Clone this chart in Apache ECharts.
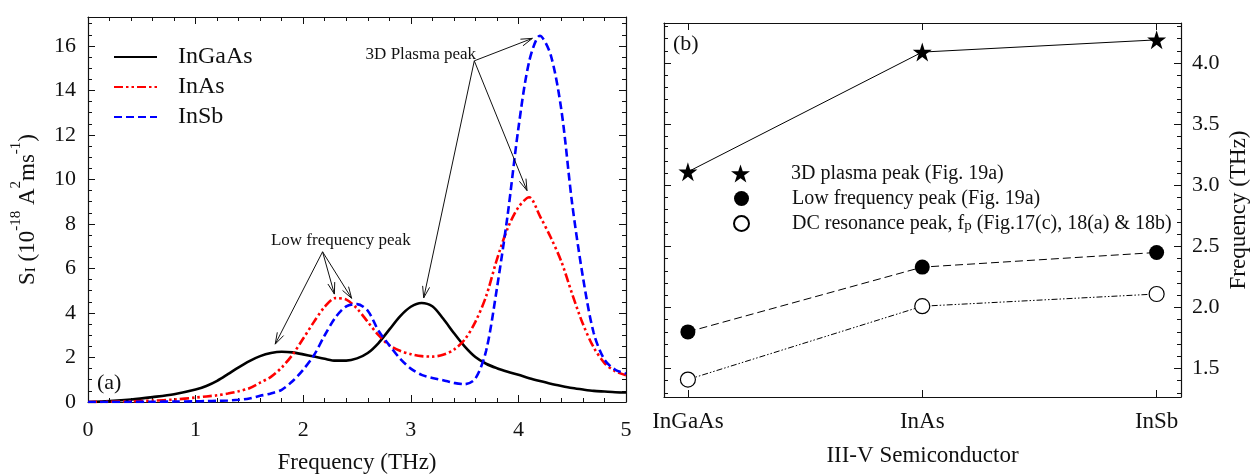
<!DOCTYPE html>
<html><head><meta charset="utf-8">
<script src="https://cdn.jsdelivr.net/npm/echarts@6/dist/echarts.min.js"></script>
<style>html,body{margin:0;padding:0;background:#fff}#c{width:1255px;height:475px}</style>
</head><body><div id="c"></div>
<script>
// ---------- Panel (a) data ----------
const freq = [0,0.2,0.4,0.6,0.8,1.0,1.1,1.2,1.3,1.4,1.5,1.6,1.7,1.8,1.9,2.0,2.1,2.2,2.3,2.4,2.5,2.6,2.7,2.8,2.9,3.0,3.1,3.2,3.3,3.4,3.5,3.6,3.7,3.8,3.9,4.0,4.1,4.2,4.3,4.4,4.5,4.6,4.7,4.8,4.9,5.0];
const inGaAs = [0,0.04,0.11,0.22,0.35,0.56,0.72,0.95,1.25,1.56,1.84,2.06,2.2,2.26,2.23,2.14,2.04,1.94,1.86,1.86,1.96,2.2,2.65,3.25,3.85,4.28,4.45,4.3,3.75,3.1,2.5,2.02,1.72,1.52,1.36,1.22,1.07,0.94,0.82,0.72,0.63,0.56,0.5,0.47,0.44,0.43];
const inAs = [0,0.01,0.03,0.06,0.11,0.2,0.25,0.3,0.38,0.48,0.62,0.87,1.13,1.55,2.12,2.85,3.6,4.28,4.67,4.6,4.2,3.6,3.0,2.55,2.3,2.15,2.06,2.04,2.12,2.35,2.8,3.6,4.75,6.4,7.8,8.75,9.2,8.35,7.4,6.3,4.85,3.5,2.45,1.75,1.38,1.2];
const inSb = [0,0,0.005,0.01,0.02,0.03,0.04,0.05,0.07,0.1,0.16,0.28,0.38,0.55,0.93,1.45,2.1,3.0,3.8,4.3,4.4,4.1,3.2,2.55,1.95,1.5,1.22,1.08,0.98,0.86,0.8,1.05,2.3,5.1,8.4,12.3,15.3,16.46,15.6,13.1,8.9,5.6,3.1,1.9,1.45,1.28];
const seriesNamesA = ['InGaAs','InAs','InSb'];
// annotation arrows (data coords): [x1, y1, x2, y2]
const arrowsA = [[3.59,15.33,4.13,16.34],[3.59,15.33,4.08,9.5],[3.59,15.33,3.12,4.68],[2.18,6.75,1.74,2.6],[2.18,6.75,2.29,4.85],[2.18,6.75,2.45,4.66]];
const notesA = [[2.58,15.63,'3D Plasma peak'],[1.70,7.27,'Low frequency peak']];

// ---------- Panel (b) data ----------
const semis = ['InGaAs','InAs','InSb'];
const plasmaPeak = [3.11,4.09,4.19];
const lowPeak = [1.8,2.33,2.45];
const dcPeak = [1.41,2.01,2.11];
const seriesNamesB = ['3D plasma peak (Fig. 19a)','Low frequency peak (Fig. 19a)','DC resonance peak, fp (Fig.17(c), 18(a) & 18b)'];

const FF = 'Liberation Serif';
const star = 'path://M50,0 L61.8,36.2 L100,36.2 L69.1,58.6 L80.9,95 L50,72.5 L19.1,95 L30.9,58.6 L0,36.2 L38.2,36.2 Z';
const pair = (a,b)=>a.map((v,i)=>[v,b[i]]);

function mkAxis(extra, minorSplit){
  const base = {
    axisLine:{show:true,onZero:false,lineStyle:{color:'#111',width:1.2}},
    axisTick:{show:true,inside:true,length:7,lineStyle:{color:'#111'}},
    minorTick:{show:minorSplit>0,splitNumber:minorSplit||5,length:4,lineStyle:{color:'#111'}},
    splitLine:{show:false}
  };
  const out = Object.assign(base, extra);
  if (extra.axisTickExtra){ out.axisTick = Object.assign(base.axisTick, extra.axisTickExtra); delete out.axisTickExtra; }
  return out;
}

function arrowItem(params, api){
  const p1 = api.coord([api.value(0), api.value(1)]);
  const p2 = api.coord([api.value(2), api.value(3)]);
  const a = Math.atan2(p2[1]-p1[1], p2[0]-p1[0]);
  const L = 12, w = 0.3;
  const h1 = [p2[0]-L*Math.cos(a-w), p2[1]-L*Math.sin(a-w)];
  const h2 = [p2[0]-L*Math.cos(a+w), p2[1]-L*Math.sin(a+w)];
  return {type:'group',children:[
    {type:'line',shape:{x1:p1[0],y1:p1[1],x2:p2[0],y2:p2[1]},style:{stroke:'#111',lineWidth:1}},
    {type:'polyline',shape:{points:[h1,p2,h2]},style:{stroke:'#111',fill:null,lineWidth:1}}
  ]};
}
function noteItem(params, api){
  const n = notesA[params.dataIndex];
  const p = api.coord([n[0], n[1]]);
  return {type:'text',x:p[0],y:p[1],style:{text:n[2],fontFamily:FF,fontSize:17,fill:'#111',align:'left',verticalAlign:'middle'}};
}

const chart = echarts.init(document.getElementById('c'));
chart.setOption({
  animation:false,
  backgroundColor:'#fff',
  grid:[
    {left:88,right:629,top:17,bottom:73,containLabel:false,outerBoundsMode:'none'},
    {left:664,right:74,top:23,bottom:78,containLabel:false,outerBoundsMode:'none'}
  ],
  legend:[
    {data:seriesNamesA,orient:'vertical',left:113,top:45,padding:0,itemWidth:43,itemHeight:14,itemGap:6,
     textStyle:{fontFamily:FF,fontSize:24,color:'#111',lineHeight:24,padding:[0,0,0,16]},
     itemStyle:{color:'rgba(0,0,0,0)',borderWidth:0}},
    {data:[{name:seriesNamesB[0],icon:star}],orient:'vertical',left:731,top:163,padding:0,itemWidth:19,itemHeight:19,
     textStyle:{fontFamily:FF,fontSize:20,color:'#111',lineHeight:21,padding:[0,0,0,36]}},
    {data:[{name:seriesNamesB[1],icon:'circle'},{name:seriesNamesB[2],icon:'circle'}],orient:'vertical',left:733,top:188,padding:0,itemWidth:15,itemHeight:15,itemGap:4,
     textStyle:{fontFamily:FF,fontSize:20,color:'#111',lineHeight:21,padding:[0,0,0,38],
       rich:{t:{fontFamily:FF,fontSize:20,color:'#111',lineHeight:21},s:{fontFamily:FF,fontSize:15,color:'#111',lineHeight:21,verticalAlign:'bottom'}}},
     formatter:function(n){ if(n.indexOf('DC')===0){return '{t|DC resonance peak, f}{s|p}{t| (Fig.17(c), 18(a) & 18b)}';} return n;}}
  ],
  xAxis:[
    mkAxis({type:'value',gridIndex:0,min:0,max:5,interval:1,
      axisLabel:{fontFamily:FF,fontSize:22,color:'#111',margin:17},
      name:'Frequency (THz)',nameLocation:'middle',nameGap:49,nameTextStyle:{fontFamily:FF,fontSize:23,color:'#111'}},5),
    mkAxis({type:'value',gridIndex:0,position:'top',min:0,max:5,interval:1,axisLabel:{show:false}},5),
    mkAxis({type:'value',gridIndex:1,min:-0.102,max:2.104,splitNumber:2,
      axisTickExtra:{customValues:[0,1,2]},
      axisLabel:{fontFamily:FF,fontSize:23,color:'#111',margin:13,customValues:[0,1,2],
        formatter:function(v){const i=Math.round(v);return (Math.abs(v-i)<1e-6 && semis[i])?semis[i]:'';}},
      name:'III-V Semiconductor',nameLocation:'middle',nameGap:47,nameTextStyle:{fontFamily:FF,fontSize:23,color:'#111'}},0),
    mkAxis({type:'value',gridIndex:1,position:'top',min:-0.102,max:2.104,splitNumber:2,
      axisTickExtra:{customValues:[0,1,2]},axisLabel:{show:false}},0)
  ],
  yAxis:[
    mkAxis({type:'value',gridIndex:0,min:0,max:17.3,interval:2,
      axisLabel:{fontFamily:FF,fontSize:22,color:'#111',margin:12,showMaxLabel:false,formatter:function(v){return (v%2===0)?String(v):'';}},
      name:'{n|S}{sub|I}{n| (10}{sup|-18}{n| A}{sup|2}{n|ms}{sup|-1}{n|)}',nameLocation:'middle',nameGap:49,nameRotate:90,
      nameTextStyle:{fontFamily:FF,fontSize:23,color:'#111',rich:{
        n:{fontFamily:FF,fontSize:23,color:'#111',lineHeight:30,verticalAlign:'bottom'},
        sup:{fontFamily:FF,fontSize:15,color:'#111',lineHeight:15,verticalAlign:'top'},
        sub:{fontFamily:FF,fontSize:15,color:'#111',lineHeight:15,verticalAlign:'bottom'}}}},4),
    mkAxis({type:'value',gridIndex:0,position:'right',min:0,max:17.3,interval:2,axisLabel:{show:false}},4),
    mkAxis({type:'value',gridIndex:1,position:'right',min:1.267,max:4.328,
      axisLabel:{fontFamily:FF,fontSize:22,color:'#111',margin:11,showMinLabel:false,showMaxLabel:false,formatter:function(v){return v.toFixed(1);}},
      name:'Frequency (THz)',nameLocation:'middle',nameGap:46,nameRotate:90,nameTextStyle:{fontFamily:FF,fontSize:23,color:'#111'}},5),
    mkAxis({type:'value',gridIndex:1,position:'left',min:1.267,max:4.328,axisLabel:{show:false}},5)
  ],
  graphic:[
    {type:'text',left:97,top:372,style:{text:'(a)',fontFamily:FF,fontSize:22,fill:'#111'}},
    {type:'text',left:673,top:33,style:{text:'(b)',fontFamily:FF,fontSize:22,fill:'#111'}}
  ],
  series:[
    {name:seriesNamesA[0],type:'line',xAxisIndex:0,yAxisIndex:0,data:pair(freq,inGaAs),smooth:0.3,showSymbol:false,symbol:'none',
      lineStyle:{color:'#000',width:2.6},itemStyle:{color:'#000'}},
    {name:seriesNamesA[1],type:'line',xAxisIndex:0,yAxisIndex:0,data:pair(freq,inAs),smooth:0.3,showSymbol:false,symbol:'none',
      lineStyle:{color:'#ff0000',width:2.6,type:[9,3,2.5,3,2.5,3]},itemStyle:{color:'#ff0000'}},
    {name:seriesNamesA[2],type:'line',xAxisIndex:0,yAxisIndex:0,data:pair(freq,inSb),smooth:0.3,showSymbol:false,symbol:'none',
      lineStyle:{color:'#0000ff',width:2.6,type:[8,4]},itemStyle:{color:'#0000ff'}},
    {type:'custom',xAxisIndex:0,yAxisIndex:0,data:arrowsA,renderItem:arrowItem,clip:false,z:5,silent:true},
    {type:'custom',xAxisIndex:0,yAxisIndex:0,data:notesA.map(n=>[n[0],n[1]]),renderItem:noteItem,clip:false,z:5,silent:true},
    {name:seriesNamesB[0],type:'line',xAxisIndex:2,yAxisIndex:2,data:plasmaPeak.map((v,i)=>[i,v]),symbol:star,symbolSize:19,
      lineStyle:{color:'#000',width:1},itemStyle:{color:'#000'}},
    {name:seriesNamesB[1],type:'line',xAxisIndex:2,yAxisIndex:2,data:lowPeak.map((v,i)=>[i,v]),symbol:'circle',symbolSize:15,
      lineStyle:{color:'#000',width:1,type:[8,4]},itemStyle:{color:'#000'}},
    {name:seriesNamesB[2],type:'line',xAxisIndex:2,yAxisIndex:2,data:dcPeak.map((v,i)=>[i,v]),symbol:'circle',symbolSize:15,
      lineStyle:{color:'#000',width:1,type:[6,2,1.5,2,1.5,2]},itemStyle:{color:'#fff',borderColor:'#000',borderWidth:1.2}}
  ]
});
</script></body></html>
